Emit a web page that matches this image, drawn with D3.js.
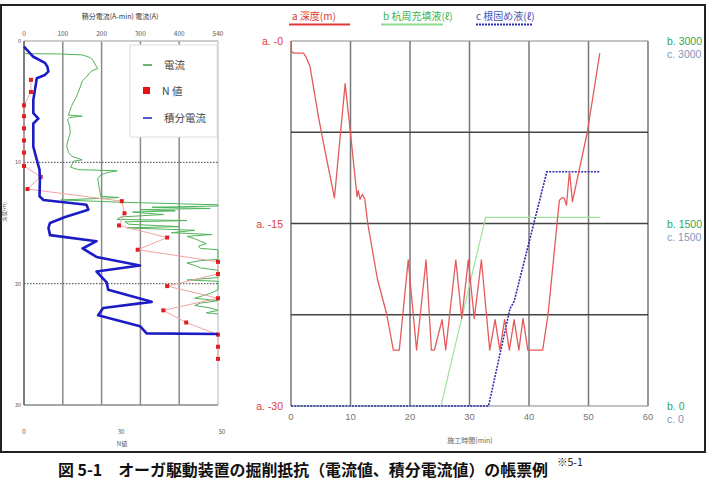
<!DOCTYPE html>
<html><head><meta charset="utf-8">
<script src="https://cdn.jsdelivr.net/npm/d3@7"></script>
<style>
html,body{margin:0;padding:0;background:#fff;}
svg{display:block;font-family:"Noto Sans CJK JP","Noto Sans",sans-serif;}
</style></head><body>
<svg id="c" width="708" height="488"></svg>
<script>
// ---------- Left panel data ----------
// integrated current (A·min) vs depth (m)
const integDepth = [0.47,1.3,1.8,2.1,2.5,2.8,3.07,4.86,5.95,6.4,6.8,8.7,9.8,10.6,11.4,12.8,13.1,13.5,13.9,14.5,15.0,15.4,16.0,16.5,17.1,17.8,18.5,19.0,19.9,20.5,21.5,22.0,22.6,23.5,24.1,24.15];
const integValue = [0,24,54,60,63,54,33,24,24,37,24,24,33,40,41,40,50,161,166,106,67,63,67,187,151,187,299,187,213,217,329,204,191,299,316,500];
// current (A) vs depth (m)
const curDepth = [1.02,1.05,1.07,1.15,1.3,1.4,1.6,2.0,2.3,2.4,2.6,3.0,3.3,3.8,4.2,4.6,5.0,5.4,5.8,6.1,6.2,6.3,6.5,7.0,7.6,8.2,8.7,9.2,9.5,9.8,9.9,10.1,10.4,10.6,10.7,10.85,11.0,11.3,11.8,12.5,12.8,12.9,13.0,13.1,13.3,13.5,13.6,13.7,13.8,13.9,14.0,14.1,14.3,14.5,14.7,14.8,14.9,15.1,15.3,15.4,15.6,15.8,15.95,16.1,16.3,16.5,16.7,16.9,17.1,17.2,17.6,18.0,18.1,18.3,18.5,18.7,18.9,19.5,19.7,19.8,20.5,20.8,21.0,21.2,21.4,21.6,21.8,22.0,22.2,22.4,22.5];
const curValue = [0,20,95,150,165,172,178,185,190,178,170,160,150,145,140,135,128,122,118,114,150,118,112,118,119,113,110,115,123,150,128,125,120,140,240,215,200,190,192,196,198,245,175,95,260,500,500,330,480,300,390,280,360,250,240,420,260,270,400,265,440,380,485,420,440,455,470,450,455,500,500,500,455,420,440,455,500,500,420,500,500,480,460,440,500,455,440,480,500,470,500];
// N value vs depth (m)
const nDepth = [3.2,4.2,5.3,6.2,7.2,8.2,9.2,10.3,11.2,12.2,13.2,14.2,15.2,16.2,17.2,18.2,19.2,20.2,21.2,22.2,23.2,24.2,25.2,26.2];
const nValue = [1.8,1.8,0,0,0,0,0,0,4.3,0.9,25.2,25.9,24.5,36.9,29.3,50,50,36.9,50,35.9,41.8,50,50,50];
const leftTopTicks = [0,100,200,300,400,500];
const leftTopLabels = ["0","100","200","300","400","540"];
const leftDepthTicks = [0,10,20,30];
const nTicks = [0,25,50];
const nTickLabels = ["0","30","50"];

// ---------- Right panel data ----------
const depthTime = [0,0.1,0.5,2.1,2.5,3.2,4.6,5.5,7.3,9.1,10,11.1,11.3,11.6,12.0,12.4,12.9,14.5,16.1,17.2,18.2,19.7,21.1,22.7,23.6,24.1,25.4,26.0,27.7,28.7,29.8,30.8,32.0,33.4,34.3,35.1,35.9,36.7,37.5,38.3,39.0,39.8,42.3,43.2,45.1,45.5,45.9,46.3,46.8,47.3,49.8,51.9];
const depthValue = [0,0.9,1.0,1.0,1.3,2.1,6.2,8.5,12.9,3.5,7.6,12.8,12.3,13.0,12.6,13.0,15.0,19.5,22.5,25.4,25.4,18.0,25.4,18.0,25.4,25.4,22.9,25.4,18.0,22.8,18.0,22.8,18.0,25.4,22.9,25.4,22.9,25.4,22.9,25.4,22.8,25.4,25.4,22.5,13.1,12.9,12.9,13.5,10.7,13.2,7.5,1.0];
const fillTime = [0,25.2,32.7,52];
const fillValue = [0,0,1550,1550];
const rootTime = [0,33.2,36.8,37.5,43,51.8];
const rootValue = [0,0,800,860,1925,1925];
const timeTicks = [0,10,20,30,40,50,60];
const depthTicksR = [0,15,30];
const volTicks = [3000,1500,0];

const svg = d3.select("#c");

// outer frame
svg.append("rect").attr("x",1).attr("y",5).attr("width",704).attr("height",447)
  .attr("fill","none").attr("stroke","#222").attr("stroke-width",2);

// ================= LEFT PANEL =================
const xCur = d3.scaleLinear().domain([0,500]).range([24,218]);
const xN = d3.scaleLinear().domain([0,50]).range([24,218]);
const yL = d3.scaleLinear().domain([0,30]).range([41,405]);

const L = svg.append("g");
L.selectAll("line.vg").data(leftTopTicks.slice(1,-1)).join("line")
  .attr("x1",d=>xCur(d)).attr("x2",d=>xCur(d)).attr("y1",yL(0)).attr("y2",yL(30))
  .attr("stroke","#8a8a8a").attr("stroke-width",1.5);
L.append("line").attr("x1",xCur(0)).attr("x2",xCur(500)).attr("y1",yL(0)).attr("y2",yL(0)).attr("stroke","#bbb").attr("stroke-width",1.5);
L.append("line").attr("x1",xCur(500)).attr("x2",xCur(500)).attr("y1",yL(0)).attr("y2",yL(30)).attr("stroke","#ccc").attr("stroke-width",1.5);
L.append("line").attr("x1",xCur(0)).attr("x2",xCur(500)).attr("y1",yL(30)).attr("y2",yL(30)).attr("stroke","#888").attr("stroke-width",1.5);
L.selectAll("line.hg").data([10,20]).join("line")
  .attr("x1",xCur(0)).attr("x2",xCur(500)).attr("y1",d=>yL(d)).attr("y2",d=>yL(d))
  .attr("stroke","#444").attr("stroke-width",1).attr("stroke-dasharray","1.5,1.5");
L.append("line").attr("x1",xCur(0)).attr("x2",xCur(0)).attr("y1",yL(0)).attr("y2",yL(30)).attr("stroke","#555").attr("stroke-width",1.5);

L.selectAll("text.tt").data(leftTopTicks).join("text")
  .attr("x",d=>xCur(d)).attr("y",36).attr("text-anchor","middle")
  .attr("font-size",6.5).attr("fill","#555").text((d,i)=>leftTopLabels[i]);
L.append("text").attr("x",120).attr("y",19).attr("text-anchor","middle")
  .attr("font-size",7).attr("fill","#333").text("積分電流(A-min)  電流(A)");
L.selectAll("text.dl").data(leftDepthTicks).join("text")
  .attr("x",21).attr("y",d=>yL(d)+2).attr("text-anchor","end")
  .attr("font-size",5.5).attr("fill","#555").text(d=>d);
L.append("text").attr("transform","translate(6,212) rotate(-90)").attr("text-anchor","middle")
  .attr("font-size",5.5).attr("fill","#555").text("深度(m)");
L.selectAll("text.nl").data(nTicks).join("text")
  .attr("x",(d,i)=>xN(d)+(i==2?4:0)).attr("y",434).attr("text-anchor","middle")
  .attr("font-size",6).attr("fill","#555").text((d,i)=>nTickLabels[i]);
L.append("text").attr("x",122).attr("y",446).attr("text-anchor","middle")
  .attr("font-size",6).attr("fill","#555").text("N値");

const curData = curDepth.map((d,i)=>[curValue[i],d]);
L.append("path").datum(curData)
  .attr("d",d3.line().x(d=>xCur(d[0])).y(d=>yL(d[1])))
  .attr("fill","none").attr("stroke","#4fb45a").attr("stroke-width",1);
const nData = nDepth.map((d,i)=>[nValue[i],d]);
L.append("path").datum(nData)
  .attr("d",d3.line().x(d=>xN(d[0])).y(d=>yL(d[1])))
  .attr("fill","none").attr("stroke","#f3a3a3").attr("stroke-width",1);
L.selectAll("rect.np").data(nData).join("rect")
  .attr("x",d=>xN(d[0])-2).attr("y",d=>yL(d[1])-2).attr("width",4).attr("height",4)
  .attr("fill","#e02020");
const intData = integDepth.map((d,i)=>[integValue[i],d]);
L.append("path").datum(intData)
  .attr("d",d3.line().x(d=>xCur(d[0])).y(d=>yL(d[1])))
  .attr("fill","none").attr("stroke","#1c1cc4").attr("stroke-width",2.6).attr("stroke-linejoin","round");

const lg = L.append("g");
lg.append("rect").attr("x",130).attr("y",45).attr("width",87).attr("height",92)
  .attr("fill","#fff").attr("stroke","#ddd").attr("stroke-width",1);
lg.append("line").attr("x1",143).attr("x2",152).attr("y1",65).attr("y2",65).attr("stroke","#3aa048").attr("stroke-width",1.5);
lg.append("rect").attr("x",143).attr("y",87).attr("width",7).attr("height",7).attr("fill","#e81010");
lg.append("line").attr("x1",143).attr("x2",152).attr("y1",118).attr("y2",118).attr("stroke","#2020c0").attr("stroke-width",1.5);
lg.append("text").attr("x",164).attr("y",69).attr("font-size",10.5).attr("fill","#444").text("電流");
lg.append("text").attr("x",162).attr("y",95).attr("font-size",10.5).attr("fill","#444").text("N 値");
lg.append("text").attr("x",164).attr("y",122).attr("font-size",10.5).attr("fill","#444").text("積分電流");

// ================= RIGHT PANEL =================
const xT = d3.scaleLinear().domain([0,60]).range([291,648]);
const yD = d3.scaleLinear().domain([0,30]).range([41,406]);
const yV = d3.scaleLinear().domain([0,3000]).range([406,41]);

const R = svg.append("g");
R.selectAll("line.rv").data(timeTicks).join("line")
  .attr("x1",d=>xT(d)).attr("x2",d=>xT(d)).attr("y1",yD(0)).attr("y2",yD(30))
  .attr("stroke","#777").attr("stroke-width",1.5);
R.selectAll("line.rh").data([0,7.5,15,22.5,30]).join("line")
  .attr("x1",xT(0)).attr("x2",xT(60)).attr("y1",d=>yD(d)).attr("y2",d=>yD(d))
  .attr("stroke",(d,i)=>(i==0||i==4)?"#888":"#444").attr("stroke-width",(d,i)=>(i==0||i==4)?1.2:1.6);

R.selectAll("text.xt").data(timeTicks).join("text")
  .attr("x",d=>xT(d)).attr("y",420).attr("text-anchor","middle")
  .attr("font-family","'Liberation Sans Narrow','Liberation Sans',sans-serif")
  .attr("font-size",9.5).attr("fill","#777").text(d=>d);
R.append("text").attr("x",470).attr("y",443).attr("text-anchor","middle")
  .attr("font-size",7).attr("fill","#666").text("施工時間(min)");
R.selectAll("text.al").data(depthTicksR).join("text")
  .attr("x",283).attr("y",d=>yD(d)+4).attr("text-anchor","end")
  .attr("font-family","'Liberation Sans Narrow','Liberation Sans',sans-serif")
  .attr("font-size",10.5).attr("fill","#e04040").text(d=>"a. -"+d);
R.selectAll("text.bl").data(volTicks).join("text")
  .attr("x",667).attr("y",d=>yV(d)+4)
  .attr("font-family","'Liberation Sans Narrow','Liberation Sans',sans-serif")
  .attr("font-size",10.5).attr("fill","#2ea654").text(d=>"b. "+d);
R.selectAll("text.cl").data(volTicks).join("text")
  .attr("x",667).attr("y",d=>yV(d)+17)
  .attr("font-family","'Liberation Sans Narrow','Liberation Sans',sans-serif")
  .attr("font-size",10.5).attr("fill","#8296b8").text(d=>"c. "+d);

const fillData = fillTime.map((t,i)=>[t,fillValue[i]]);
R.append("path").datum(fillData)
  .attr("d",d3.line().x(d=>xT(d[0])).y(d=>yV(d[1])))
  .attr("fill","none").attr("stroke","#9ee49e").attr("stroke-width",1.2);
const rootData = rootTime.map((t,i)=>[t,rootValue[i]]);
R.append("path").datum(rootData)
  .attr("d",d3.line().x(d=>xT(d[0])).y(d=>yV(d[1])))
  .attr("fill","none").attr("stroke","#2b2bb0").attr("stroke-width",1.6).attr("stroke-dasharray","2,1.2");
const depData = depthTime.map((t,i)=>[t,depthValue[i]]);
R.append("path").datum(depData)
  .attr("d",d3.line().x(d=>xT(d[0])).y(d=>yD(d[1])))
  .attr("fill","none").attr("stroke","#e55a5a").attr("stroke-width",1.3).attr("stroke-linejoin","round");

const tl = R.append("g").attr("font-size",10);
tl.append("text").attr("x",292).attr("y",20).attr("fill","#e03838").text("a 深度(m)");
tl.append("line").attr("x1",289).attr("x2",350).attr("y1",24.5).attr("y2",24.5).attr("stroke","#e03838").attr("stroke-width",2);
tl.append("text").attr("x",383).attr("y",20).attr("fill","#3cb04c").text("b 杭周充填液(ℓ)");
tl.append("line").attr("x1",381).attr("x2",443).attr("y1",24.5).attr("y2",24.5).attr("stroke","#8fdc8f").attr("stroke-width",2);
tl.append("text").attr("x",476).attr("y",20).attr("fill","#4a52b4").text("c 根固め液(ℓ)");
tl.append("line").attr("x1",476).attr("x2",533).attr("y1",24.5).attr("y2",24.5).attr("stroke","#2b2bb0").attr("stroke-width",2).attr("stroke-dasharray","2,1");

// caption
svg.append("text").attr("x",58).attr("y",476).attr("font-size",16).attr("font-weight",700)
  .attr("textLength",490).attr("lengthAdjust","spacingAndGlyphs")
  .attr("fill","#111").text("図 5-1　オーガ駆動装置の掘削抵抗（電流値、積分電流値）の帳票例");
svg.append("text").attr("x",557).attr("y",466).attr("font-size",10.5).attr("fill","#111").text("※5-1");
</script>
</body></html>
